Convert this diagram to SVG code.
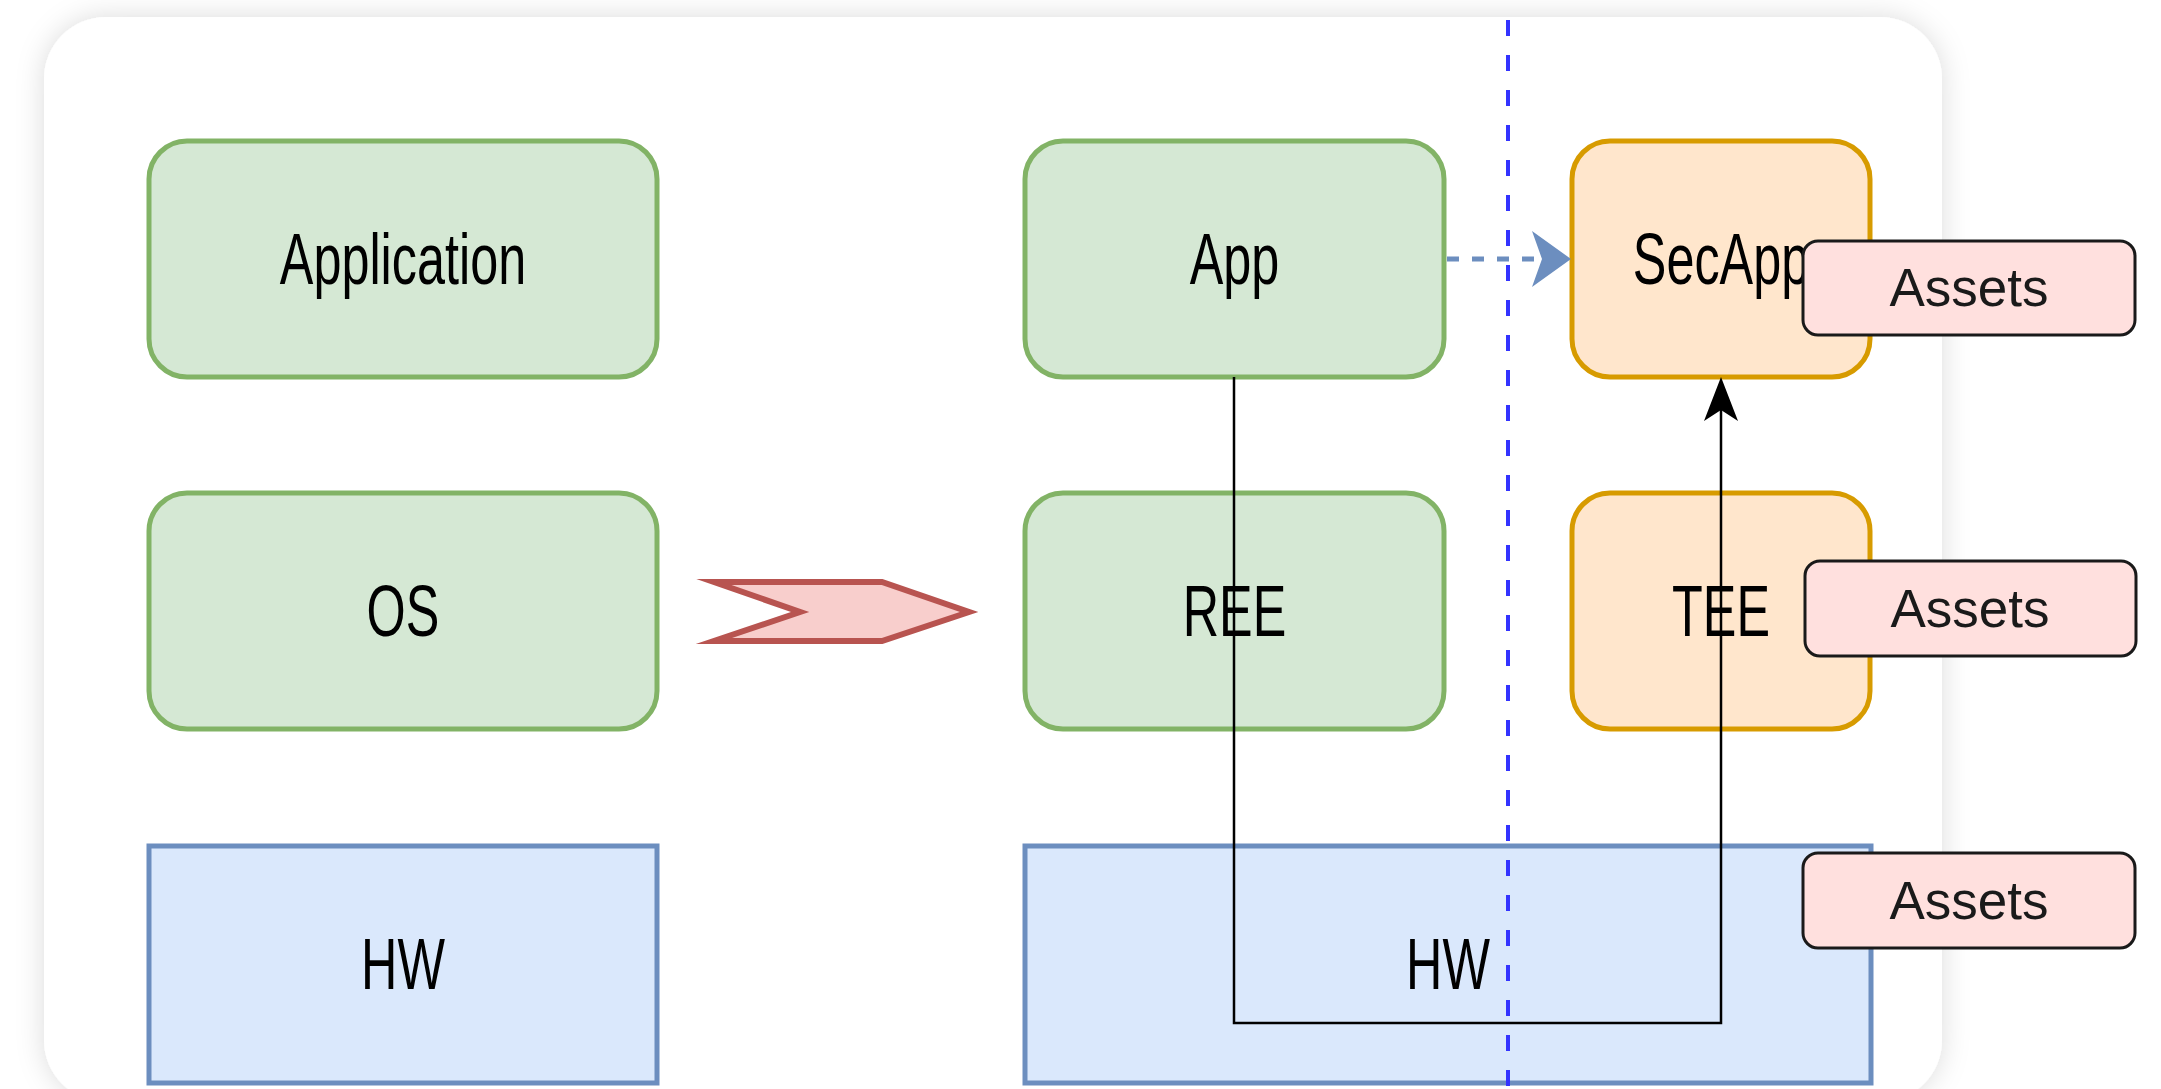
<svg xmlns="http://www.w3.org/2000/svg" width="2161" height="1089" viewBox="0 0 2161 1089">
  <defs>
    <style>
      .box { stroke-width: 5; }
      .green { fill: #d5e8d4; stroke: #82b366; }
      .orange { fill: #ffe6cc; stroke: #d79b00; }
      .blue { fill: #dae8fc; stroke: #6c8ebf; stroke-width: 5; }
      .asset { fill: #ffe0de; stroke: #1a1a1a; stroke-width: 3; }
      .lbl { font-family: "Liberation Sans", Arial, Helvetica, sans-serif; font-size: 73px; fill: #000; text-anchor: middle; }
      .alabel { font-family: "Liberation Sans", Arial, Helvetica, sans-serif; font-size: 53px; fill: #1a1a1a; text-anchor: middle; }
      .flow { fill: none; stroke: #000; stroke-width: 2.5; }
      .call { fill: none; stroke: #6c8ebf; stroke-width: 5; stroke-dasharray: 12 13; }
      .boundary { fill: none; stroke: #3333ff; stroke-width: 4; stroke-dasharray: 16 19; }
    </style>
    <filter id="cardShadow" x="-5%" y="-10%" width="110%" height="120%">
      <feDropShadow dx="0" dy="0" stdDeviation="14" flood-color="#000" flood-opacity="0.14"/>
    </filter>
    <!-- block arrowhead, blue dashed call -->
    <marker id="headBlue" viewBox="0 0 39 56" markerUnits="userSpaceOnUse" markerWidth="39" markerHeight="56" refX="10" refY="28" orient="auto">
      <path d="M0,0 L39,28 L0,56 L10,28 Z" fill="#6c8ebf"/>
    </marker>
    <!-- classic arrowhead, black flow -->
    <marker id="headBlack" viewBox="0 0 44 34" markerUnits="userSpaceOnUse" markerWidth="44" markerHeight="34" refX="11" refY="17" orient="auto">
      <path d="M0,0 L44,17 L0,34 L11,17 Z" fill="#000"/>
    </marker>
  </defs>

  <!-- page and card -->
  <rect x="0" y="0" width="2161" height="1089" fill="#ffffff"/>
  <rect x="44" y="17" width="1898" height="1085" rx="62" ry="62" fill="#ffffff" filter="url(#cardShadow)"/>

  <!-- classic stack -->
  <g id="application">
    <rect class="box green" x="149" y="141" width="508" height="236" rx="38"/>
    <text class="lbl" transform="translate(403,284) scale(0.69,1)">Application</text>
  </g>
  <g id="os">
    <rect class="box green" x="149" y="493" width="508" height="236" rx="38"/>
    <text class="lbl" transform="translate(403,636) scale(0.69,1)">OS</text>
  </g>
  <g id="hw-classic">
    <rect class="box blue" x="149" y="846" width="508" height="237"/>
    <text class="lbl" transform="translate(403,989) scale(0.69,1)">HW</text>
  </g>

  <!-- transition chevron -->
  <g id="chevron">
    <polygon points="714,582 882,582 969,612 882,641 714,641 800,612" fill="#f8cecc" stroke="#b85450" stroke-width="6" stroke-linejoin="miter" stroke-miterlimit="10"/>
  </g>

  <!-- split stack -->
  <g id="hw-split">
    <rect class="box blue" x="1025" y="846" width="846" height="237"/>
    <text class="lbl" transform="translate(1448,989) scale(0.69,1)">HW</text>
  </g>
  <g id="app">
    <rect class="box green" x="1025" y="141" width="419" height="236" rx="38"/>
    <text class="lbl" transform="translate(1234.5,284) scale(0.69,1)">App</text>
  </g>
  <g id="ree">
    <rect class="box green" x="1025" y="493" width="419" height="236" rx="38"/>
    <text class="lbl" transform="translate(1234.5,636) scale(0.69,1)">REE</text>
  </g>
  <g id="secapp">
    <rect class="box orange" x="1572" y="141" width="298" height="236" rx="38"/>
    <text class="lbl" transform="translate(1721,284) scale(0.69,1)">SecApp</text>
  </g>
  <g id="tee">
    <rect class="box orange" x="1572" y="493" width="298" height="236" rx="38"/>
    <text class="lbl" transform="translate(1721,636) scale(0.69,1)">TEE</text>
  </g>

  <!-- connectors -->
  <g id="connectors">
    <line class="boundary" x1="1508" y1="20" x2="1508" y2="1089"/>
    <line class="call" x1="1447" y1="259" x2="1542" y2="259" marker-end="url(#headBlue)"/>
    <path class="flow" d="M1234,377 V1023 H1721 V410" marker-end="url(#headBlack)"/>
  </g>

  <!-- asset tags -->
  <g id="assets-secapp">
    <rect class="asset" x="1803" y="241" width="332" height="94" rx="15"/>
    <text class="alabel" x="1969" y="306">Assets</text>
  </g>
  <g id="assets-tee">
    <rect class="asset" x="1805" y="561" width="331" height="95" rx="15"/>
    <text class="alabel" x="1970" y="627">Assets</text>
  </g>
  <g id="assets-hw">
    <rect class="asset" x="1803" y="853" width="332" height="95" rx="15"/>
    <text class="alabel" x="1969" y="919">Assets</text>
  </g>
</svg>
